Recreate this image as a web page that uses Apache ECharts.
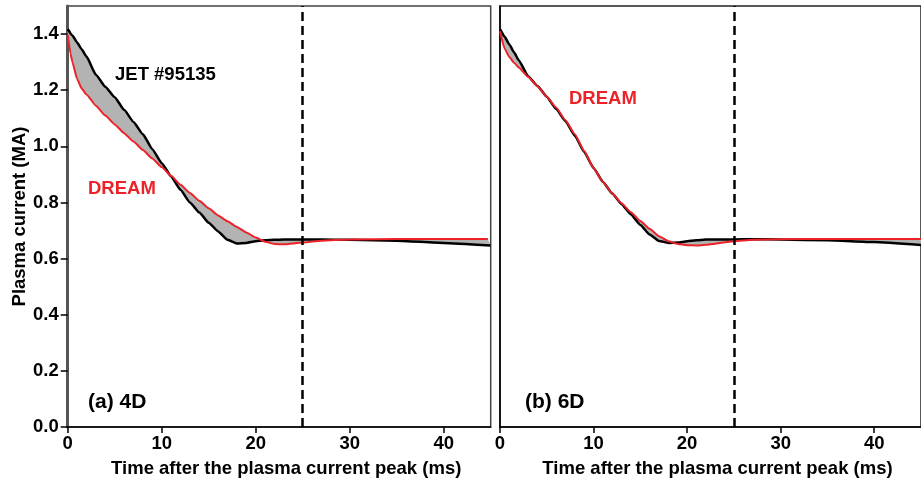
<!DOCTYPE html>
<html>
<head>
<meta charset="utf-8">
<script src="https://cdn.jsdelivr.net/npm/echarts@6/dist/echarts.min.js"></script>
<style>
html,body{margin:0;padding:0;background:#fff;}
#c{width:921px;height:483px;}
</style>
</head>
<body>
<div id="c"></div>
<script>
// ---- Data (time in ms, plasma current in MA) ----
var tJet4D  = [0,0.5,1,1.5,2,3,4,5,6,7,8,9,10,11,12,13,14,15,16,17,18,19,20,21,22,23,25,27,30,35,40,45];
var jet4D   = [1.418,1.395,1.37,1.345,1.32,1.255,1.212,1.175,1.13,1.087,1.043,0.99,0.94,0.893,0.845,0.80,0.764,0.728,0.697,0.667,0.654,0.656,0.662,0.665,0.667,0.668,0.668,0.668,0.667,0.664,0.656,0.647];
var tDream4D = [0,0.3,0.5,1,1.5,2,3,4,5,6,7,8,9,10,11,12,13,14,15,16,17,18,19,20,21,22,23,25,27,30,35,40,44.7];
var dream4D  = [1.398,1.33,1.30,1.24,1.205,1.185,1.145,1.110,1.078,1.047,1.017,0.987,0.957,0.926,0.895,0.863,0.834,0.806,0.779,0.754,0.733,0.713,0.693,0.675,0.660,0.652,0.651,0.657,0.664,0.668,0.670,0.670,0.670];

var tJet6D  = [0,0.5,1,1.5,2,3,4,5,6,7,8,9,10,11,12,13,14,15,16,17,18,19,20,21,22,23,25,27,30,35,40,45];
var jet6D   = [1.418,1.39,1.363,1.335,1.307,1.25,1.215,1.177,1.133,1.09,1.038,0.98,0.923,0.873,0.832,0.794,0.757,0.72,0.686,0.663,0.656,0.657,0.662,0.665,0.668,0.668,0.668,0.669,0.668,0.665,0.659,0.648];
var tDream6D = [0,0.5,1,1.5,2,3,4,5,6,7,8,9,10,11,12,13,14,15,16,17,18,19,20,21,22,23,24,25,27,30,35,40,45];
var dream6D  = [1.41,1.348,1.318,1.298,1.281,1.248,1.214,1.177,1.138,1.093,1.043,0.983,0.923,0.873,0.832,0.797,0.765,0.734,0.706,0.68,0.662,0.652,0.648,0.647,0.649,0.653,0.658,0.662,0.667,0.669,0.670,0.670,0.670];

var xTicks = [0,10,20,30,40];
var yTicks = [0.0,0.2,0.4,0.6,0.8,1.0,1.2,1.4];
var tDashed = 25;

var panelLabels = ['(a) 4D','(b) 6D'];
var shotLabel = 'JET #95135';
var modelLabel = 'DREAM';
var xTitle = 'Time after the plasma current peak (ms)';
var yTitle = 'Plasma current (MA)';

// ---- Helpers ----
function pairs(t, v){ return t.map(function(x,i){ return [x, v[i]]; }); }
var FONT = "'Liberation Sans', Arial, sans-serif";
var RED = '#ec2228';

function bandSeries(idx, tA, a, tB, b){
  return {
    type:'custom', xAxisIndex:idx, yAxisIndex:idx, z:1, silent:true,
    data:[[0,0]],
    renderItem:function(params, api){
      var pts = [];
      for (var i=0;i<tA.length;i++) pts.push(api.coord([tA[i], a[i]]));
      for (var j=tB.length-1;j>=0;j--) pts.push(api.coord([tB[j], b[j]]));
      return {type:'polygon', shape:{points:pts}, style:{fill:'#b3b3b3', stroke:null}};
    }
  };
}
function lineSeries(idx, t, v, color, width, withMark){
  var s = {
    type:'line', xAxisIndex:idx, yAxisIndex:idx, z:3,
    data:pairs(t, v), showSymbol:false, smooth:0.15, smoothMonotone:'x',
    lineStyle:{color:color, width:width}, silent:true
  };
  if (withMark){
    s.markLine = {
      silent:true, symbol:['none','none'], label:{show:false},
      lineStyle:{color:'#000', width:2.5, type:[9,5]},
      data:[{xAxis:tDashed}]
    };
  }
  return s;
}
function xAxisCfg(idx){
  return {
    type:'value', gridIndex:idx, min:0, max:45, interval:10,
    axisLine:{show:true, onZero:false, lineStyle:{color:'#000', width:1.5}},
    axisTick:{show:true, length:6, lineStyle:{color:'#000', width:1.5}, customValues:xTicks},
    axisLabel:{show:true, margin:7, fontFamily:FONT, fontWeight:'bold', fontSize:18.5, color:'#000',
      customValues:xTicks, formatter:function(v){return String(v);}},
    splitLine:{show:false},
    name: xTitle, nameLocation:'middle', nameGap:32,
    nameTextStyle:{fontFamily:FONT, fontWeight:'bold', fontSize:18.5, color:'#000', padding:[0,0,0,14]}
  };
}
function yAxisCfg(idx, showLabels){
  return {
    type:'value', gridIndex:idx, min:0, max:1.5, interval:0.2,
    axisLine:{show:true, onZero:false, lineStyle:{color: showLabels ? '#555' : '#000', width: showLabels ? 3 : 1.5}},
    axisTick:{show:showLabels, length:7, lineStyle:{color:'#000', width:1.5}, customValues:yTicks},
    axisLabel:{show:showLabels, margin:9, fontFamily:FONT, fontWeight:'bold', fontSize:18.5, color:'#000',
      customValues:yTicks, formatter:function(v){return v.toFixed(1);}},
    splitLine:{show:false},
    name: showLabels ? yTitle : '', nameLocation:'middle', nameGap:38,
    nameTextStyle:{fontFamily:FONT, fontWeight:'bold', fontSize:18.5, color:'#000'}
  };
}

var chart = echarts.init(document.getElementById('c'), null, {renderer:'canvas'});
chart.setOption({
  animation:false,
  backgroundColor:'#fff',
  grid:[
    {left:67.7, top:6, width:423, height:423, show:true, borderColor:'#444', borderWidth:1.5, backgroundColor:'transparent'},
    {left:500, top:6, width:423.5, height:423, show:true, borderColor:'#222', borderWidth:1.5, backgroundColor:'transparent'}
  ],
  xAxis:[xAxisCfg(0), xAxisCfg(1)],
  yAxis:[yAxisCfg(0,true), yAxisCfg(1,false)],
  series:[
    bandSeries(0, tJet4D, jet4D, tDream4D, dream4D),
    lineSeries(0, tJet4D, jet4D, '#000', 2.5, true),
    lineSeries(0, tDream4D, dream4D, RED, 2, false),
    bandSeries(1, tJet6D, jet6D, tDream6D, dream6D),
    lineSeries(1, tJet6D, jet6D, '#000', 2.5, true),
    lineSeries(1, tDream6D, dream6D, RED, 2, false)
  ],
  graphic:[
    {type:'text', x:115, y:75, z:10, style:{text:shotLabel, font:"bold 18.5px "+FONT, fill:'#000', verticalAlign:'middle'}},
    {type:'text', x:88, y:189, z:10, style:{text:modelLabel, font:"bold 18.5px "+FONT, fill:RED, verticalAlign:'middle'}},
    {type:'text', x:88, y:402, z:10, style:{text:panelLabels[0], font:"bold 21px "+FONT, fill:'#000', verticalAlign:'middle'}},
    {type:'text', x:525, y:402, z:10, style:{text:panelLabels[1], font:"bold 21px "+FONT, fill:'#000', verticalAlign:'middle'}},
    {type:'text', x:569, y:99, z:10, style:{text:modelLabel, font:"bold 18.5px "+FONT, fill:RED, verticalAlign:'middle'}}
  ]
});
</script>
</body>
</html>
